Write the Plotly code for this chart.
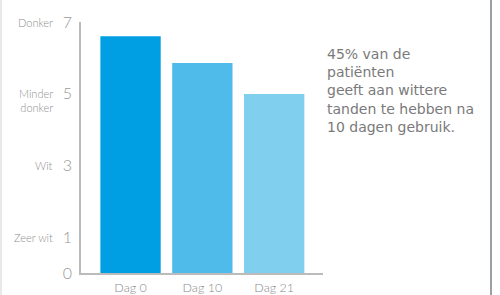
import plotly.graph_objects as go

categories = ["Dag 0", "Dag 10", "Dag 21"]
values = [6.6, 5.86, 4.99]
bar_colors = ["#009FE3", "#4FBBEB", "#80CFEF"]
tick_vals = [0, 1, 3, 5, 7]
tick_nums = ["0", "1", "3", "5", "7"]
word_vals = [7, 5, 3, 1]
word_labels = ["Donker", "Minder<br>donker", "Wit", "Zeer wit"]
note_lines = ["45% van de", "patiënten", "geeft aan wittere",
              "tanden te hebben na", "10 dagen gebruik."]

FONT = "Lato"
W, H = 500, 295
L, R, T, B = 81, 177, 22, 22
PW, PH = W - L - R, H - T - B

fig = go.Figure()
fig.add_trace(go.Bar(x=categories, y=values, marker=dict(color=bar_colors, line=dict(width=0)),
                     hoverinfo="skip"))

fig.update_layout(
    width=W, height=H,
    margin=dict(l=L, r=R, t=T, b=B, autoexpand=False),
    paper_bgcolor="white", plot_bgcolor="white",
    showlegend=False, bargap=0.16,
    font=dict(family=FONT, color="#999999"),
    xaxis=dict(range=[-0.69, 2.68], showgrid=False, zeroline=False, automargin=False,
               showline=True, linecolor="#BBBBBB", linewidth=1.5,
               ticks="", ticklabelstandoff=2,
               tickfont=dict(size=12.5, color="#8a8a8a", family=FONT, weight=300)),
    yaxis=dict(range=[0, 7], showgrid=False, zeroline=False, automargin=False,
               showline=True, linecolor="#BBBBBB", linewidth=1.5,
               tickvals=tick_vals, ticktext=tick_nums, ticks="",
               ticklabelstandoff=4,
               tickfont=dict(size=16, color="#9a9a9a", family=FONT, weight=300)),
)

for v, lab in zip(word_vals, word_labels):
    multi = "<br>" in lab
    fig.add_annotation(xref="paper", yref="y", x=-26/PW, y=v, text=lab,
                       xanchor="right", yanchor="middle", align="right",
                       showarrow=False, yshift=-7 if multi else 0,
                       font=dict(size=11, color="#8f8f8f", family=FONT, weight=300))

fig.add_annotation(xref="paper", yref="paper", x=(325-L)/PW, y=(H-B-44)/PH,
                   text="<br>".join(note_lines), xanchor="left", yanchor="top", align="left",
                   showarrow=False,
                   font=dict(size=14, color="#7a7a7a", family="DejaVu Sans"))

fig.add_shape(type="line", xref="paper", yref="paper",
              x0=(491-L)/PW, x1=(491-L)/PW, y0=-B/PH, y1=1+T/PH,
              line=dict(color="#9aa0a6", width=2))
fig.add_shape(type="line", xref="paper", yref="paper",
              x0=(1-L)/PW, x1=(1-L)/PW, y0=-B/PH, y1=1+T/PH,
              line=dict(color="#e0e0e0", width=1.5))

fig.write_html("out.html", config={"displayModeBar": False},
               post_script="document.body.style.margin='0';")
